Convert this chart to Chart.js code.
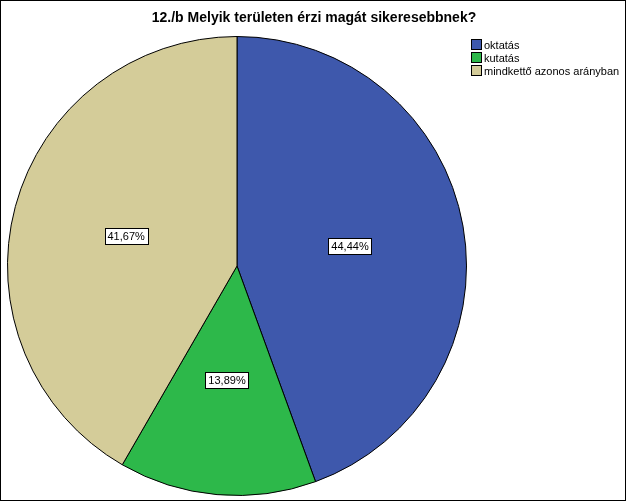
<!DOCTYPE html>
<html>
<head>
<meta charset="utf-8">
<script src="https://cdn.jsdelivr.net/npm/chart.js@4"></script>
<style>
  html, body { margin: 0; padding: 0; background: #fff; }
  #wrap { position: relative; width: 626px; height: 501px; box-sizing: border-box; border: 1px solid #000; }
  #title { position: absolute; top: 8px; left: 0; width: 626px; text-align: center;
           font: bold 14px "Liberation Sans", Arial, sans-serif; color: #000; }
  #legend { position: absolute; left: 470px; top: 37px; font: 11px "Liberation Sans", Arial, sans-serif; }
  .item { display: flex; align-items: center; height: 13px; }
  .sw { width: 9px; height: 9px; border: 1px solid #000; margin-right: 2px; }
  canvas { position: absolute; left: 0; top: 0; }
</style>
</head>
<body>
<div id="wrap">
  <canvas id="pie" width="624" height="499"></canvas>
  <div id="title">12./b Melyik területen érzi magát sikeresebbnek?</div>
  <div id="legend"></div>
</div>
<script>
// ── Data ──
const categories = ['oktatás', 'kutatás', 'mindkettő azonos arányban'];
const values     = [44.44, 13.89, 41.67];
const colors     = ['#3E58AC', '#2DB84A', '#D4CC99'];

// ── HTML legend ──
document.getElementById('legend').innerHTML = categories.map((c, i) =>
  `<div class="item"><span class="sw" style="background:${colors[i]}"></span>${c}</div>`
).join('');

// ── Boxed percentage labels ──
const boxLabels = {
  id: 'boxLabels',
  afterDatasetsDraw(chart) {
    const ctx = chart.ctx;
    ctx.save();
    ctx.font = '11px "Liberation Sans", Arial, sans-serif';
    ctx.textAlign = 'center';
    ctx.textBaseline = 'middle';
    chart.getDatasetMeta(0).data.forEach((arc, i) => {
      const p = arc.tooltipPosition();
      const txt = values[i].toFixed(2).replace('.', ',') + '%';
      const w = ctx.measureText(txt).width + 6;
      ctx.fillStyle = '#fff';
      ctx.fillRect(Math.round(p.x - w / 2) + 0.5, Math.round(p.y - 8) + 0.5, Math.round(w), 16);
      ctx.strokeStyle = '#000';
      ctx.lineWidth = 1;
      ctx.strokeRect(Math.round(p.x - w / 2) + 0.5, Math.round(p.y - 8) + 0.5, Math.round(w), 16);
      ctx.fillStyle = '#000';
      ctx.fillText(txt, p.x, p.y + 1);
    });
    ctx.restore();
  }
};

new Chart(document.getElementById('pie'), {
  type: 'pie',
  data: {
    labels: categories,
    datasets: [{
      data: values,
      backgroundColor: colors,
      borderColor: '#000',
      borderWidth: 1,
    }]
  },
  options: {
    responsive: false,
    animation: false,
    layout: { padding: { left: 6, top: 35, right: 158, bottom: 4 } },
    plugins: {
      legend:  { display: false },
      tooltip: { enabled: false },
    },
  },
  plugins: [boxLabels]
});
</script>
</body>
</html>
